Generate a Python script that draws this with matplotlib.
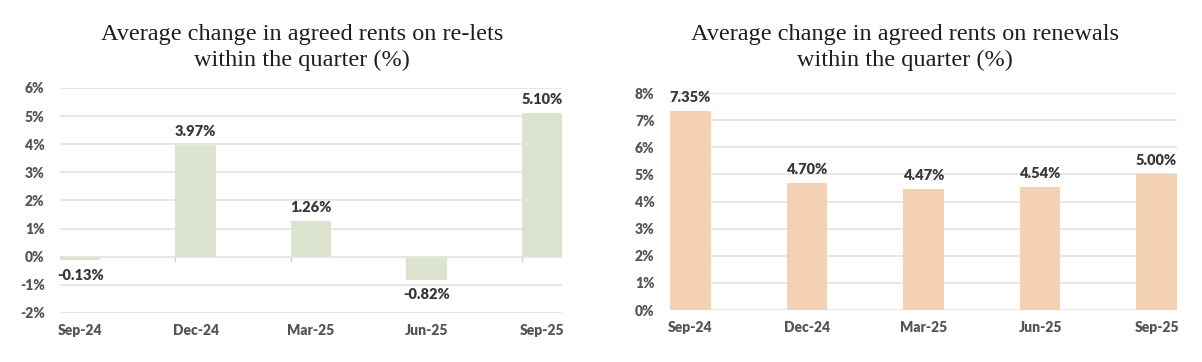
import matplotlib.pyplot as plt
from matplotlib.ticker import FuncFormatter

quarters = ["Sep-24", "Dec-24", "Mar-25", "Jun-25", "Sep-25"]
relets = [-0.13, 3.97, 1.26, -0.82, 5.10]
renewals = [7.35, 4.70, 4.47, 4.54, 5.00]

title_relets = "Average change in agreed rents on re-lets\nwithin the quarter (%)"
title_renewals = "Average change in agreed rents on renewals\nwithin the quarter (%)"

bar_w = 0.35
sans = ["Lato", "DejaVu Sans"]

fig = plt.figure(figsize=(12.02, 3.62), dpi=100)
ax1 = fig.add_axes([0.0499, 0.1354, 0.4177, 0.6216])
ax2 = fig.add_axes([0.5574, 0.1436, 0.4218, 0.5994])


def style_axis(ax, data, color, ylim, yticks):
    x = list(range(len(data)))
    ax.bar(x, data, width=bar_w, color=color, zorder=2)
    ax.set_xlim(-bar_w / 2, len(data) - 1 + bar_w / 2)
    ax.set_ylim(*ylim)
    ax.set_yticks(yticks)
    ax.yaxis.set_major_formatter(FuncFormatter(lambda v, p: f"{v:.0f}%"))
    ax.set_xticks(x)
    ax.set_xticklabels(quarters)
    ax.grid(axis="y", color="#e3e3e3", linewidth=1.2, zorder=0)
    for s in ax.spines.values():
        s.set_visible(False)
    ax.tick_params(axis="both", length=0, labelcolor="#555555")
    ax.tick_params(axis="y", pad=11)
    ax.tick_params(axis="x", pad=8)
    for lab in ax.get_xticklabels() + ax.get_yticklabels():
        lab.set_family(sans)
        lab.set_fontweight("heavy")
        lab.set_fontsize(10)
    for i, v in enumerate(data):
        if v >= 0:
            ax.annotate(f"{v:.2f}%", (i, v), xytext=(0, 5), textcoords="offset points",
                        ha="center", va="bottom", fontsize=10.5, fontweight="heavy",
                        color="#383838", family=sans)
        else:
            ax.annotate(f"{v:.2f}%", (i, v), xytext=(0, -6), textcoords="offset points",
                        ha="center", va="top", fontsize=10.5, fontweight="heavy",
                        color="#383838", family=sans)


style_axis(ax1, relets, "#dce4d0", (-2, 6), range(-2, 7))
style_axis(ax2, renewals, "#f5d1b3", (0, 8), range(0, 9))

# small category ticks under the zero line on the left chart
for i in range(1, len(quarters)):
    ax1.plot([i - bar_w / 2, i - bar_w / 2], [0, -0.15], color="#d0d0d0", lw=1, zorder=1)

fig.text(0.251, 0.87, title_relets, ha="center", va="center", fontsize=17.5,
         family="Liberation Serif", color="#1e1e1e", linespacing=1.3)
fig.text(0.753, 0.87, title_renewals, ha="center", va="center", fontsize=17.5,
         family="Liberation Serif", color="#1e1e1e", linespacing=1.3)

fig.savefig("out.png", dpi=100)
